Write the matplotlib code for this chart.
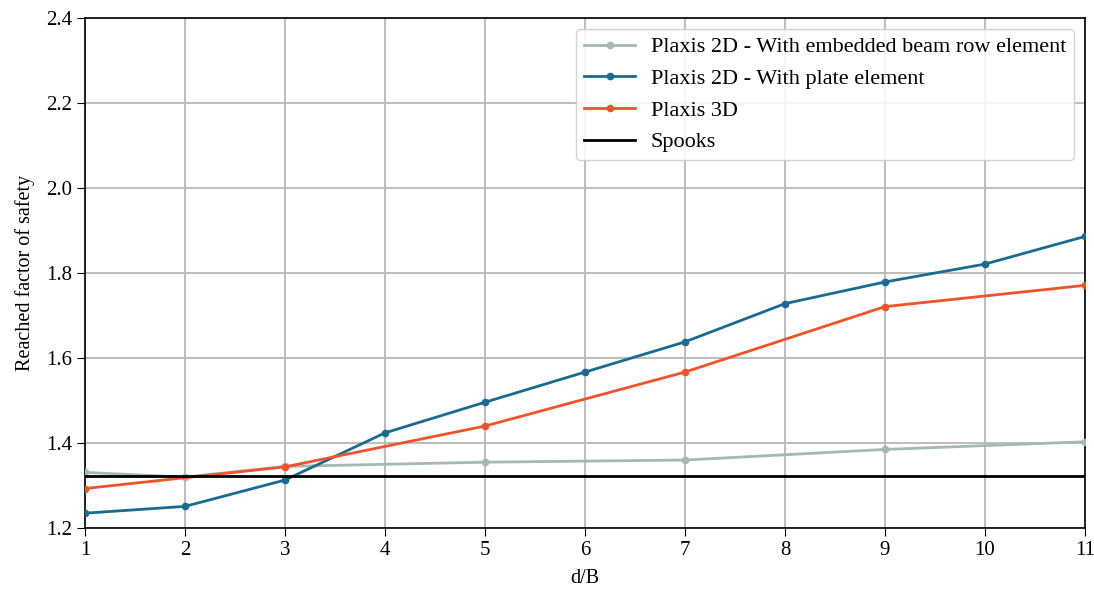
import matplotlib
matplotlib.use("Agg")
import matplotlib.pyplot as plt

x_all = [1, 2, 3, 4, 5, 6, 7, 8, 9, 10, 11]
x_gray = [1, 2, 3, 5, 7, 9, 11]
y_gray = [1.331, 1.320, 1.345, 1.355, 1.360, 1.385, 1.403]
y_blue = [1.235, 1.251, 1.313, 1.424, 1.496, 1.567, 1.638, 1.728, 1.779, 1.821, 1.886]
x_orange = [1, 3, 5, 7, 9, 11]
y_orange = [1.293, 1.344, 1.440, 1.567, 1.721, 1.771]
spooks = 1.322

labels = ["Plaxis 2D - With embedded beam row element",
          "Plaxis 2D - With plate element",
          "Plaxis 3D",
          "Spooks"]

plt.rcParams['font.family'] = ['Liberation Serif', 'DejaVu Serif']

fig = plt.figure(figsize=(10.94, 5.94), dpi=100)
ax = fig.add_axes([0.0777, 0.111, 0.914, 0.8587])

ax.plot(x_gray, y_gray, '-o', color='#a3b9b1', lw=2, ms=4.5, label=labels[0], zorder=3)
ax.plot(x_all, y_blue, '-o', color='#1b6a8f', lw=2, ms=4.5, label=labels[1], zorder=4)
ax.plot(x_orange, y_orange, '-o', color='#f0532b', lw=2, ms=4.5, label=labels[2], zorder=5)
ax.plot([1, 11], [spooks, spooks], '-', color='black', lw=2, label=labels[3], zorder=6)

ax.set_xlim(1, 11)
ax.set_ylim(1.2, 2.4)
ax.set_xticks(x_all)
ax.set_yticks([1.2, 1.4, 1.6, 1.8, 2.0, 2.2, 2.4])
ax.set_yticklabels(["1.2", "1.4", "1.6", "1.8", "2.0", "2.2", "2.4"])
ax.grid(True, color='#b8b8b8', lw=1.3)
ax.set_axisbelow(True)
ax.tick_params(labelsize=15, length=6)
ax.set_xlabel("d/B", fontsize=14.5, labelpad=6)
ax.set_ylabel("Reached factor of safety", fontsize=14.5, labelpad=8)
for s in ax.spines.values():
    s.set_linewidth(1.2)

ax.legend(loc='upper right', fontsize=16, framealpha=0.85, handlelength=2.3,
          handletextpad=0.7, borderpad=0.35)

fig.savefig("out.png", dpi=100)
